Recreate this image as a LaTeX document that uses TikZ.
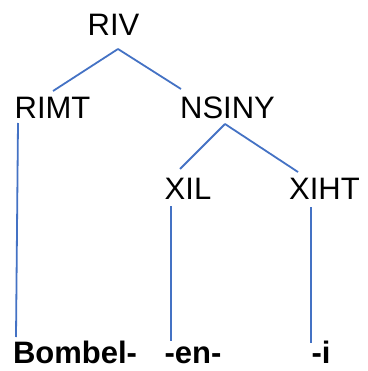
\documentclass[tikz,border=0pt]{standalone}
\usepackage{fontspec}
\setmainfont{Liberation Sans}
\begin{document}
\begin{tikzpicture}[x=1pt,y=-1pt,
  lbl/.style={anchor=base,inner sep=0pt,font=\fontsize{31}{36}\selectfont},
  blbl/.style={lbl,font=\fontsize{31}{36}\selectfont\bfseries},
  conn/.style={draw={rgb,255:red,68;green,114;blue,196},line width=1.8pt}]
\useasboundingbox (0,0) rectangle (367,371);
\node[lbl] (riv) at (113.5,36) {RIV};
\node[lbl] (rimt) at (52.5,119) {RIMT};
\node[lbl] (nsiny) at (227.5,119) {NSINY};
\node[lbl] (xil) at (188,199) {XIL};
\node[lbl] (xiht) at (324.5,199) {XIHT};
\node[blbl] (bombel) at (75,363) {Bombel-};
\node[blbl] (en) at (193,363) {-en-};
\node[blbl] (i) at (321,363) {-i};
\coordinate (rivB) at (118,49);
\coordinate (rimtT) at (53,91);
\coordinate (nsinyT) at (181,89);
\coordinate (rimtB) at (18,123);
\coordinate (bombelT) at (16,337);
\coordinate (nsinyB) at (225,124);
\coordinate (xilT) at (180,169);
\coordinate (xihtT) at (298,172);
\coordinate (xilB) at (171,206);
\coordinate (enT) at (171,341);
\coordinate (xihtB) at (311,207);
\coordinate (iT) at (311,343);
\draw[conn] (rivB) -- (rimtT);
\draw[conn] (rivB) -- (nsinyT);
\draw[conn] (rimtB) -- (bombelT);
\draw[conn] (nsinyB) -- (xilT);
\draw[conn] (nsinyB) -- (xihtT);
\draw[conn] (xilB) -- (enT);
\draw[conn] (xihtB) -- (iT);
\end{tikzpicture}
\end{document}
